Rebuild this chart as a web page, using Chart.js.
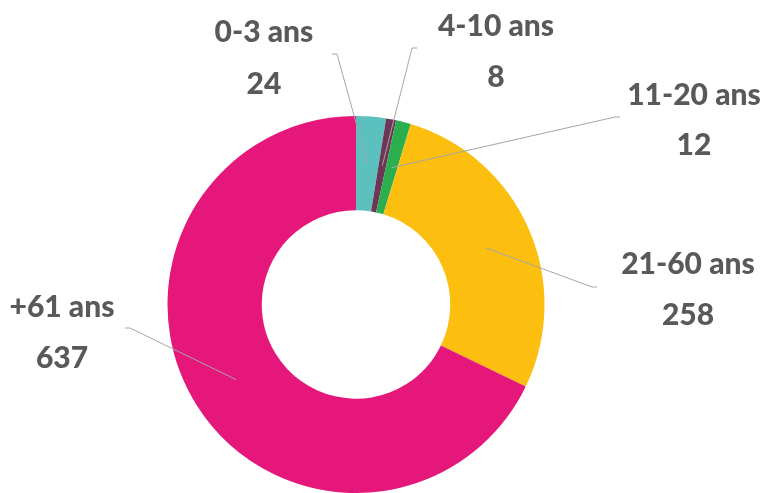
<!DOCTYPE html>
<html>
<head>
<meta charset="utf-8">
<script src="https://cdn.jsdelivr.net/npm/chart.js@4"></script>
<style>
  html, body { margin: 0; padding: 0; background: #fff; }
  canvas { display: block; }
</style>
</head>
<body>
<canvas id="myChart" width="768" height="493"></canvas>
<script>
// data
const categories = ['0-3 ans', '4-10 ans', '11-20 ans', '21-60 ans', '+61 ans'];
const counts = [24, 8, 12, 258, 637];

// styling
const colors = ['#5BC0BE', '#6E3556', '#2BAE4E', '#FCBF10', '#E6177A'];
// label block centre [x, nameY, valueY] and leader elbow [x, y, tailX]
const labelPos = [[264, 32, 84], [496, 26, 77], [694, 95, 145], [688, 264, 315], [62, 307, 358]];
const elbows = [[337, 54, 332], [412, 48, 417], [615, 117, 620], [592, 287, 597], [130, 328, 125]];

const leaderLabels = {
  id: 'leaderLabels',
  afterDatasetsDraw(chart) {
    const ctx = chart.ctx;
    const meta = chart.getDatasetMeta(0);
    ctx.save();
    meta.data.forEach(function (arc, i) {
      const p = arc.getProps(['x', 'y', 'startAngle', 'endAngle', 'innerRadius', 'outerRadius'], true);
      const mid = (p.startAngle + p.endAngle) / 2;
      const r = (p.innerRadius + p.outerRadius) / 2;
      const sx = p.x + Math.cos(mid) * r;
      const sy = p.y + Math.sin(mid) * r;
      const e = elbows[i];
      ctx.strokeStyle = '#A6A6A6';
      ctx.lineWidth = 1;
      ctx.beginPath();
      ctx.moveTo(sx, sy);
      ctx.lineTo(e[0], e[1]);
      ctx.lineTo(e[2], e[1]);
      ctx.stroke();

      const l = labelPos[i];
      ctx.fillStyle = '#595959';
      ctx.font = '900 30px Lato';
      ctx.textAlign = 'center';
      ctx.textBaseline = 'middle';
      ctx.fillText(categories[i], l[0], l[1]);
      ctx.fillText(String(chart.data.datasets[0].data[i]), l[0], l[2]);
    });
    ctx.restore();
  }
};

new Chart(document.getElementById('myChart'), {
  type: 'doughnut',
  data: {
    labels: categories,
    datasets: [{
      data: counts,
      backgroundColor: colors,
      borderWidth: 0
    }]
  },
  options: {
    responsive: false,
    animation: false,
    cutout: '50%',
    layout: {
      padding: { left: 167, right: 223, top: 116, bottom: 0 }
    },
    plugins: {
      legend: { display: false },
      tooltip: { enabled: false }
    }
  },
  plugins: [leaderLabels]
});
</script>
</body>
</html>
